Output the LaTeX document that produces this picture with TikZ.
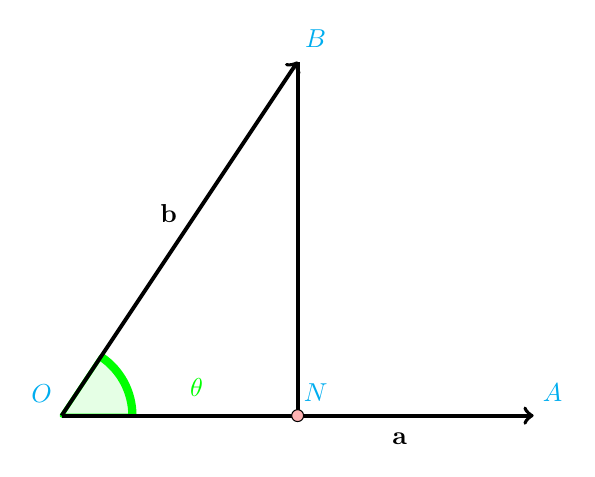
\documentclass[tikz,border=0pt]{standalone}
\usepackage{amsmath}
\begin{document}
\begin{tikzpicture}[x=1.6cm,y=1.6cm,
  vec/.style={line width=1.5pt,->},
  seg/.style={line width=1.5pt},
  lbl/.style={text=cyan,inner sep=0pt},
  dotn/.style={circle,draw=black,fill=red!30,inner sep=0pt,minimum size=4.6pt,thin}]
\useasboundingbox (-0.522,-0.52) rectangle (4.52,3.522);
\coordinate (O) at (0,0);
\coordinate (A) at (4,0);
\coordinate (B) at (2,3);
\coordinate (N) at (2,0);
\fill[green!10] (O) -- (0.6,0) arc (0:56.31:0.6) -- cycle;
\draw[green,line width=3.2pt] (0.6,0) arc (0:56.31:0.6);
\draw[green,line width=1.6pt,line join=round,line cap=round] (0.6,0) -- (O) -- (56.31:0.6);
\draw[vec] (O) -- (A);
\draw[vec] (O) -- (B);
\draw[seg] (N) -- (B);
\node[dotn] (Nd) at (N) {};
\node[lbl] (lO) at (-0.17,0.186) {$O$};
\node[lbl] (lN) at (2.153,0.195) {$N$};
\node[lbl] (lA) at (4.16,0.195) {$A$};
\node[lbl] (lB) at (2.153,3.195) {$B$};
\node[inner sep=0pt] (lb) at (0.907,1.712) {$\mathbf{b}$};
\node[inner sep=0pt] (la) at (2.864,-0.195) {$\mathbf{a}$};
\node[text=green,inner sep=0pt] (lt) at (1.144,0.237) {$\theta$};
\end{tikzpicture}
\end{document}
